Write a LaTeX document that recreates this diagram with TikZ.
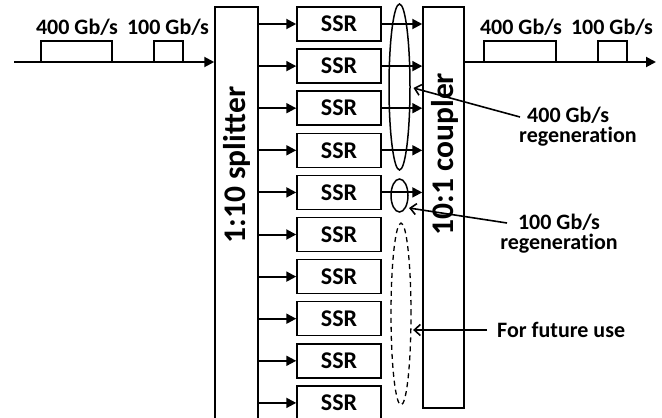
\documentclass[tikz,border=0pt]{standalone}
\usepackage{fontspec}
\setmainfont{Carlito}[Ligatures=CommonOff]
\usetikzlibrary{arrows.meta,shapes.geometric}
\newcommand\mytightlines{\lineskiplimit -30pt\relax}
\begin{document}
\begin{tikzpicture}[x=1pt,y=-1pt,
  box/.style={draw,line width=1.5pt,inner sep=0pt},
  ssrbox/.style={box,minimum width=84pt,minimum height=34pt,font=\bfseries\fontsize{24}{26}\selectfont},
  arr/.style={line width=2pt,line join=miter,-{Triangle[length=10pt,width=10pt]}},
  pulse/.style={line width=2pt},
  ann/.style={line width=1.6pt,-{Straight Barb[length=6pt,width=11pt]}},
  lbl/.style={font=\bfseries\fontsize{22}{20}\selectfont\mytightlines,inner sep=0pt},
  big/.style={font=\bfseries\fontsize{31.5}{33}\selectfont,inner sep=0pt,rotate=90},
  ell/.style={draw,ellipse,line width=1.5pt,inner sep=0pt}]
\useasboundingbox (0,0) rectangle (662,418);
% splitter and coupler
\node[box,minimum width=43pt,minimum height=430pt] (split) at (236.5,222) {};
\node[big] at (237,165) {1:10 splitter};
\node[box,minimum width=41pt,minimum height=401pt] (coup) at (443.5,207.5) {};
\node[big] at (445,154) {10:1 coupler};
% SSR boxes
\foreach \i in {1,...,10}{
  \node[ssrbox] (s\i) at (339,{24+42.1*(\i-1)}) {SSR};
  \draw[arr] (split.east |- s\i.west) -- (s\i.west);
}
\foreach \i in {1,...,5}{
  \draw[arr] (s\i.east) -- (coup.west |- s\i.east);
}
% input signal
\coordinate (inp) at (14,62);
\draw[arr] (inp) -- (split.west |- inp);
\draw[pulse] (41,62) rectangle (112,41);
\draw[pulse] (154,62) rectangle (183,41);
\node[lbl] (in400) at (77,27) {400 Gb/s};
\node[lbl] (in100) at (168,27) {100 Gb/s};
% output signal
\coordinate (outp) at (656,62);
\draw[arr] (coup.east |- outp) -- (outp);
\draw[pulse] (484,62) rectangle (556,41);
\draw[pulse] (598,62) rectangle (627,41);
\node[lbl] (out400) at (521,27) {400 Gb/s};
\node[lbl] (out100) at (612,27) {100 Gb/s};
% ellipses
\node[ell,minimum width=21pt,minimum height=166pt] (e400) at (399.5,87) {};
\node[ell,minimum width=17pt,minimum height=33pt] (e100) at (399.5,195.5) {};
\node[ell,dash pattern=on 5pt off 4pt,line width=1.3pt,minimum width=20pt,minimum height=182pt] (efut) at (401,314) {};
% annotations
\node[lbl,align=left,anchor=base west] (a400) at (519,142) {\hspace*{8pt}400 Gb/s\\regeneration};
\coordinate (t400) at (520,117);
\draw[ann] (t400) -- ([shift={(14,1)}]e400.center);
\node[lbl,align=center,anchor=base] (a100) at (559,249.5) {100 Gb/s\\regeneration};
\coordinate (t100) at (507,223);
\draw[ann] (t100) -- ([shift={(9.5,12.5)}]e100.center);
\node[lbl,anchor=west] (afut) at (497,330) {For future use};
\coordinate (tfut) at (487,330);
\draw[ann] (tfut) -- ([xshift=1.5pt]efut.east |- tfut);
\end{tikzpicture}
\end{document}
